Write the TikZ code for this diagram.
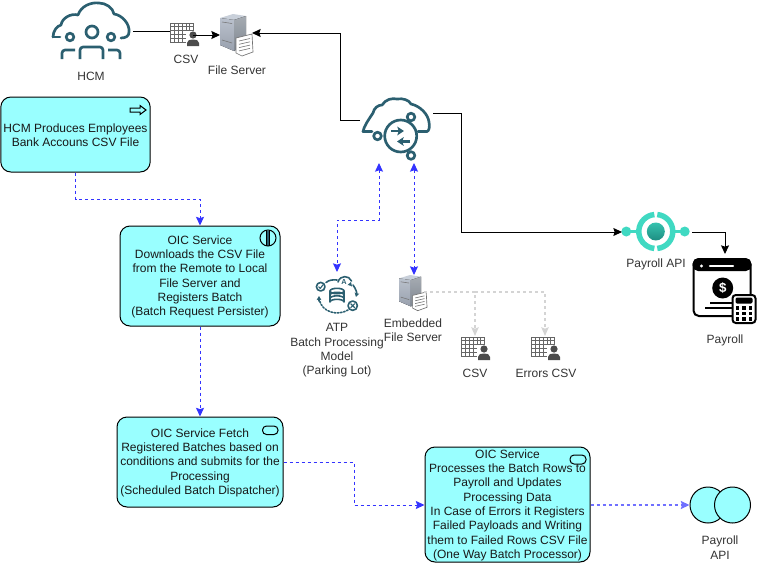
\documentclass[tikz,border=0pt]{standalone}
\usepackage{fontspec}
\setmainfont{Liberation Sans}
\usetikzlibrary{arrows.meta,calc}
\definecolor{cyanbox}{HTML}{99FFFF}
\definecolor{flow}{HTML}{3333FF}
\definecolor{icon}{HTML}{2B5F70}
\definecolor{lab}{HTML}{333333}
\definecolor{teal}{HTML}{40D9C2}
\definecolor{tealdark}{HTML}{1E8E82}
\definecolor{srvtop}{HTML}{C9D0DA}
\definecolor{srvfront}{HTML}{A9B2C0}
\definecolor{srvside}{HTML}{7F8791}
\tikzset{
 x=0.75pt,y=-0.75pt,
 boxnode/.style={draw=black,fill=cyanbox,line width=0.75pt,rounded corners=7.5pt,inner sep=0pt},
 boxtext/.style={align=center,inner sep=0pt,font=\fontsize{9}{10.75}\selectfont,text=black!90,yshift=-0.6pt},
 lbl/.style={align=center,inner sep=0pt,font=\fontsize{9}{10.75}\selectfont,text=lab},
 flowline/.style={draw=flow,line width=0.75pt,dash pattern=on 2.25pt off 2.25pt,-{Stealth[length=6.5pt,width=6pt,inset=1pt]}},
 flowboth/.style={flowline,{Stealth[length=6.5pt,width=6pt,inset=1pt]}-{Stealth[length=6.5pt,width=6pt,inset=1pt]}},
 solidline/.style={draw=black,line width=0.75pt,-{Stealth[length=6.5pt,width=6pt,inset=1pt]}},
 greyline/.style={draw=black!17,line width=1.1pt,dash pattern=on 2.25pt off 2.25pt,-{Stealth[length=6.5pt,width=5.5pt,inset=1pt]}},
 ic/.style={draw=icon,line width=2pt,line cap=round,line join=round},
 csvicon/.pic={
  \draw[draw=black!60,line width=0.6pt] (0,0) rectangle (23,19);
  \foreach \a in {4,8,12,16,19}{\draw[draw=black!60,line width=0.5pt] (\a,0)--(\a,19);}
  \foreach \a in {3.5,7.5,11.5,15.5}{\draw[draw=black!60,line width=0.5pt] (0,\a)--(23,\a);}
  \fill[white] (16,8) rectangle (30,24);
  \fill[black!70] (23,12) circle (3.6);
  \fill[black!70] (17,23) -- (17,20) .. controls (17,17) and (20,16.5) .. (23,16.5) .. controls (26,16.5) and (29,17) .. (29,20) -- (29,23) -- cycle;
 },
 serverlarge/.pic={
  \fill[srvtop] (0,4) -- (13,0) -- (26,2) -- (14,6) -- cycle;
  \fill[top color=srvfront!80!white,bottom color=srvfront!90!black] (0,4) -- (14,6) -- (14,37) -- (0,31) -- cycle;
  \fill[top color=srvside!70!white,bottom color=srvside] (14,6) -- (26,2) -- (26,30) -- (14,37) -- cycle;
  \draw[black!55,line width=0.4pt] (2,8)--(12,9.5) (2,26)--(12,29);
  \fill[white,draw=black!55,line width=0.5pt] (16,24) -- (32,20) -- (33,38) -- (22,42) -- (16,39) -- cycle;
  \foreach \a in {0,1,2,3}{\draw[black!55,line width=0.45pt] (19,{27+3.3*\a}) -- (30,{24.5+3.3*\a});}
 },
}
\begin{document}
\begin{tikzpicture}
\useasboundingbox (0,0) rectangle (760,564);
% boxes
\node[boxnode,minimum width=112pt,minimum height=56.25pt] (b1) at (75.5,134.5) {};
\node[boxtext] (t1) at (b1) {HCM Produces Employees\\Bank Accouns CSV File};
\node[boxnode,minimum width=120pt,minimum height=75pt] (b2) at (200,276) {};
\node[boxtext] (t2) at (b2) {OIC Service\\Downloads the CSV File\\from the Remote to Local\\File Server and\\Registers Batch\\(Batch Request Persister)};
\node[boxnode,minimum width=124.5pt,minimum height=67.5pt] (b3) at (200,462) {};
\node[boxtext] (t3) at (b3) {OIC Service Fetch\\Registered Batches based on\\conditions and submits for the\\Processing\\(Scheduled Batch Dispatcher)};
\node[boxnode,minimum width=123.75pt,minimum height=86.25pt] (b4) at (507.5,504.5) {};
\node[boxtext] (t4) at (b4) {OIC Service\\Processes the Batch Rows to\\Payroll and Updates\\Processing Data\\In Case of Errors it Registers\\Failed Payloads and Writing\\them to Failed Rows CSV File\\(One Way Batch Processor)};
% box symbols
\draw[black,line width=0.75pt,fill=cyanbox] (130,108) -- (140,108) -- (140,105.5) -- (146,110) -- (140,114.5) -- (140,112) -- (130,112) -- cycle;
\fill[icon] (266.5,230.5) rectangle (269.5,245.5);
\draw[black,line width=0.75pt] (268,238) circle (8);
\draw[black,line width=0.75pt] (266.5,230.2) -- (266.5,245.8) (269.5,230.2) -- (269.5,245.8);
\draw[black,line width=0.75pt,rounded corners=3pt] (262.5,426) rectangle (278,434.5);
\draw[black,line width=0.75pt,rounded corners=3pt] (570,455) rectangle (586,464);
% Payroll API interface circles
\node[draw=black,fill=cyanbox,circle,minimum size=27pt,inner sep=0pt,line width=0.75pt] (pl) at (708,505) {};
\node[draw=black,fill=cyanbox,circle,minimum size=27pt,inner sep=0pt,line width=0.75pt] (pr) at (732.5,505) {};
\node[lbl] (plab) at (720,547.5) {Payroll\\API};
% anchors
\coordinate (hcmout) at (133,31);
\coordinate (fsin) at (220,35);
\coordinate (fsright) at (252,33);
\coordinate (cloudleft) at (360,120);
\coordinate (cloudright) at (433,113);
\coordinate (apil) at (622,232);
\coordinate (apir) at (692,232);
\coordinate (payin) at (725,254);
\coordinate (cloudatp) at (379,163);
\coordinate (atpin) at (337,272);
\coordinate (cloudefs) at (414,163);
\coordinate (efsin) at (414,275);
\coordinate (efsout) at (424,292);
\coordinate (csvin) at (475,336);
\coordinate (errin) at (545,336);
% HCM icon
\draw[ic] (53,37) .. controls (53,31) and (57,26) .. (61,25) .. controls (62,18) and (71,13) .. (78,15) .. controls (81,6) and (91,2) .. (99,3) .. controls (106,3) and (113,8) .. (114,14) .. controls (122,15) and (130,24) .. (129,32) .. controls (129,36) and (126,38) .. (121,38);
\draw[ic] (53,37) -- (60,37);
\draw[ic] (92,32) circle (6);
\draw[ic] (70,37) circle (3.8);
\draw[ic] (111,37) circle (3.8);
\draw[ic,line cap=butt] (80,59) -- (80,50) arc[start angle=180,end angle=270,radius=3] -- (100,47) arc[start angle=-90,end angle=0,radius=3] -- (103,59);
\draw[ic,line cap=butt] (62,59) -- (62,53) arc[start angle=180,end angle=270,radius=3] -- (75,50);
\draw[ic,line cap=butt] (120,59) -- (120,53) arc[start angle=0,end angle=-90,radius=3] -- (108,50);
\node[lbl] (hcml) at (91,76) {HCM};
% CSV + server
\draw[solidline,-] (hcmout) -- (170,31);
\pic at (170,23) {csvicon};
\draw[solidline] (193,35) -- (fsin);
\node[lbl] (csv1) at (186,59) {CSV};
\pic at (220,14) {serverlarge};
\node[lbl] (fs) at (237,70) {File Server};
% centre cloud
\draw[ic] (363,131.5) .. controls (364,126) and (369,119) .. (373,113) .. controls (374,108) and (378,105) .. (382,105) .. controls (386,99) and (392,98) .. (397,99) .. controls (403,98) and (409,100) .. (411,104) .. controls (420,106) and (428,114) .. (429,122) .. controls (430,127) and (429,131) .. (427,131.5) -- (418,131.5);
\draw[ic] (363,131.5) -- (372,131.5);
\draw[ic] (400.7,136) circle (16);
\draw[ic] (377.5,136) circle (3.8);
\draw[ic] (411,117) circle (3.8);
\draw[ic] (411,155.5) circle (3.8);
\draw[ic,line width=1.8pt,line cap=butt,-{Stealth[length=5pt,width=6.5pt,inset=1pt]}] (391,131) -- (404,131);
\draw[ic,line width=1.8pt,line cap=butt,-{Stealth[length=5pt,width=6.5pt,inset=1pt]}] (410,141.5) -- (397,141.5);
% ATP icon
\draw[ic,line width=1.2pt] (337,291) ellipse (7 and 2.7);
\draw[ic,line width=1.2pt] (330,291) -- (330,302) arc[start angle=180,end angle=360,x radius=7,y radius=2.7] -- (344,291);
\draw[ic,line width=1.2pt] (330,295) arc[start angle=180,end angle=360,x radius=7,y radius=2.7];
\draw[ic,line width=1.2pt] (330,298.5) arc[start angle=180,end angle=360,x radius=7,y radius=2.7];
\draw[ic,line width=1.2pt] (320.7,286.7) circle (4.3);
\draw[ic,line width=1.2pt] (352.7,305.7) circle (4.7);
\draw[ic,line width=0.8pt] (350.7,303.7) -- (354.7,307.7) (354.7,303.7) -- (350.7,307.7);
\draw[ic,line width=0.8pt] (318.7,286.7) -- (320.2,288.5) -- (323,284.8);
\draw[ic,line width=1.2pt] (326,282.5) .. controls (329,280) and (333,279.5) .. (337,280);
\draw[ic,line width=1.2pt] (338,282) .. controls (340,275) and (349,275) .. (351.5,281);
\draw[ic,line width=1.2pt,-{Stealth[length=3pt,width=3.5pt,inset=0.5pt]}] (350,285) -- (351,282);
\draw[ic,line width=1.2pt,-{Stealth[length=3pt,width=3.5pt,inset=0.5pt]}] (353,285) .. controls (356,289) and (357,293) .. (356,297);
\draw[ic,line width=1.2pt,dash pattern=on 1.2pt off 1.2pt] (348,310) .. controls (338,316) and (322,313) .. (319,299);
\draw[ic,line width=1.2pt,-{Stealth[length=3pt,width=3.5pt,inset=0.5pt]}] (319,301) -- (319,296);
\node[font=\bfseries\fontsize{5.5}{6}\selectfont,text=icon,inner sep=0pt] (atpa) at (344,282) {A};
\node[lbl] (atpl) at (337,350.5) {ATP\\Batch Processing\\Model\\(Parking Lot)};
% embedded server
\pic[scale=0.85] at (399,275) {serverlarge};
\node[lbl] (efsl) at (413,330) {Embedded\\File Server};
\pic at (461,337) {csvicon};
\pic at (531,337) {csvicon};
\node[lbl] (csv2) at (475,373) {CSV};
\node[lbl] (csv3) at (546,373) {Errors CSV};
% API icon
\draw[draw=teal,line width=1.6pt] (626.3,231.5) -- (640,231.5) (670,231.5) -- (684.7,231.5);
\draw[draw=teal,line width=4.1pt] (655.8,231.5) ++(85:17) arc[start angle=85,end angle=-85,radius=17];
\draw[draw=teal,line width=4.1pt] (655.8,231.5) ++(95:17) arc[start angle=95,end angle=265,radius=17];
\shade[top color=teal!70!tealdark,bottom color=tealdark] (655.8,231.5) circle (9);
\fill[teal] (626.3,231.5) circle (5) (684.7,231.5) circle (5);
\node[lbl] (apilab) at (656,264) {Payroll API};
% payroll icon
\draw[black,line width=1.5pt,rounded corners=4pt,fill=white] (693.5,259) rectangle (750.5,316);
\fill[black,rounded corners=4pt] (692.7,258.2) rectangle (751.3,271);
\fill[white] (701.5,266) circle (1.7);
\draw[white,line width=1.8pt,line cap=round] (710,266) -- (733,266);
\fill[black] (722.7,288) circle (10.5);
\node[font=\bfseries\fontsize{10}{10}\selectfont,text=white,inner sep=0pt] (dollar) at (722.7,288) {\$};
\draw[black,line width=0.9pt] (710,303) -- (738,303) (705,308) -- (732,308);
\draw[black,line width=1.5pt,rounded corners=2.5pt,fill=white] (732.5,295) rectangle (755.5,323);
\fill[black,rounded corners=1pt] (735.5,297.5) rectangle (752.5,303.5);
\foreach \xx in {737.5,744,750.5}{\foreach \yy in {308,313.5,319}{\fill[black] (\xx-1.9,\yy-1.9) rectangle (\xx+1.9,\yy+1.9);}}
\node[lbl] (payl) at (725,340) {Payroll};
% connectors
\draw[solidline] (cloudleft) -- (340,120) -- (340,33) -- (fsright);
\draw[solidline] (cloudright) -- (461,113) -- (461,232) -- (apil);
\draw[solidline] (apir) -- (725,232) -- (payin);
\draw[flowline] (b1.south) -- (75.5,199) -- (200,199) -- (b2.north);
\draw[flowline] (b2.south) -- (b3.north);
\draw[flowline] (b3.east) -- (354,462) -- (354,505) -- (b4.west|-354,505);
\draw[flowline,draw=flow!70,line width=1.1pt] (b4.east|-590,505) -- (pl.west);
\draw[flowboth] (cloudatp) -- (379,220) -- (337,220) -- (atpin);
\draw[flowboth] (cloudefs) -- (efsin);
\draw[greyline] (efsout) -- (475,292) -- (csvin);
\draw[greyline] (475,292) -- (545,292) -- (errin);
\end{tikzpicture}
\end{document}
